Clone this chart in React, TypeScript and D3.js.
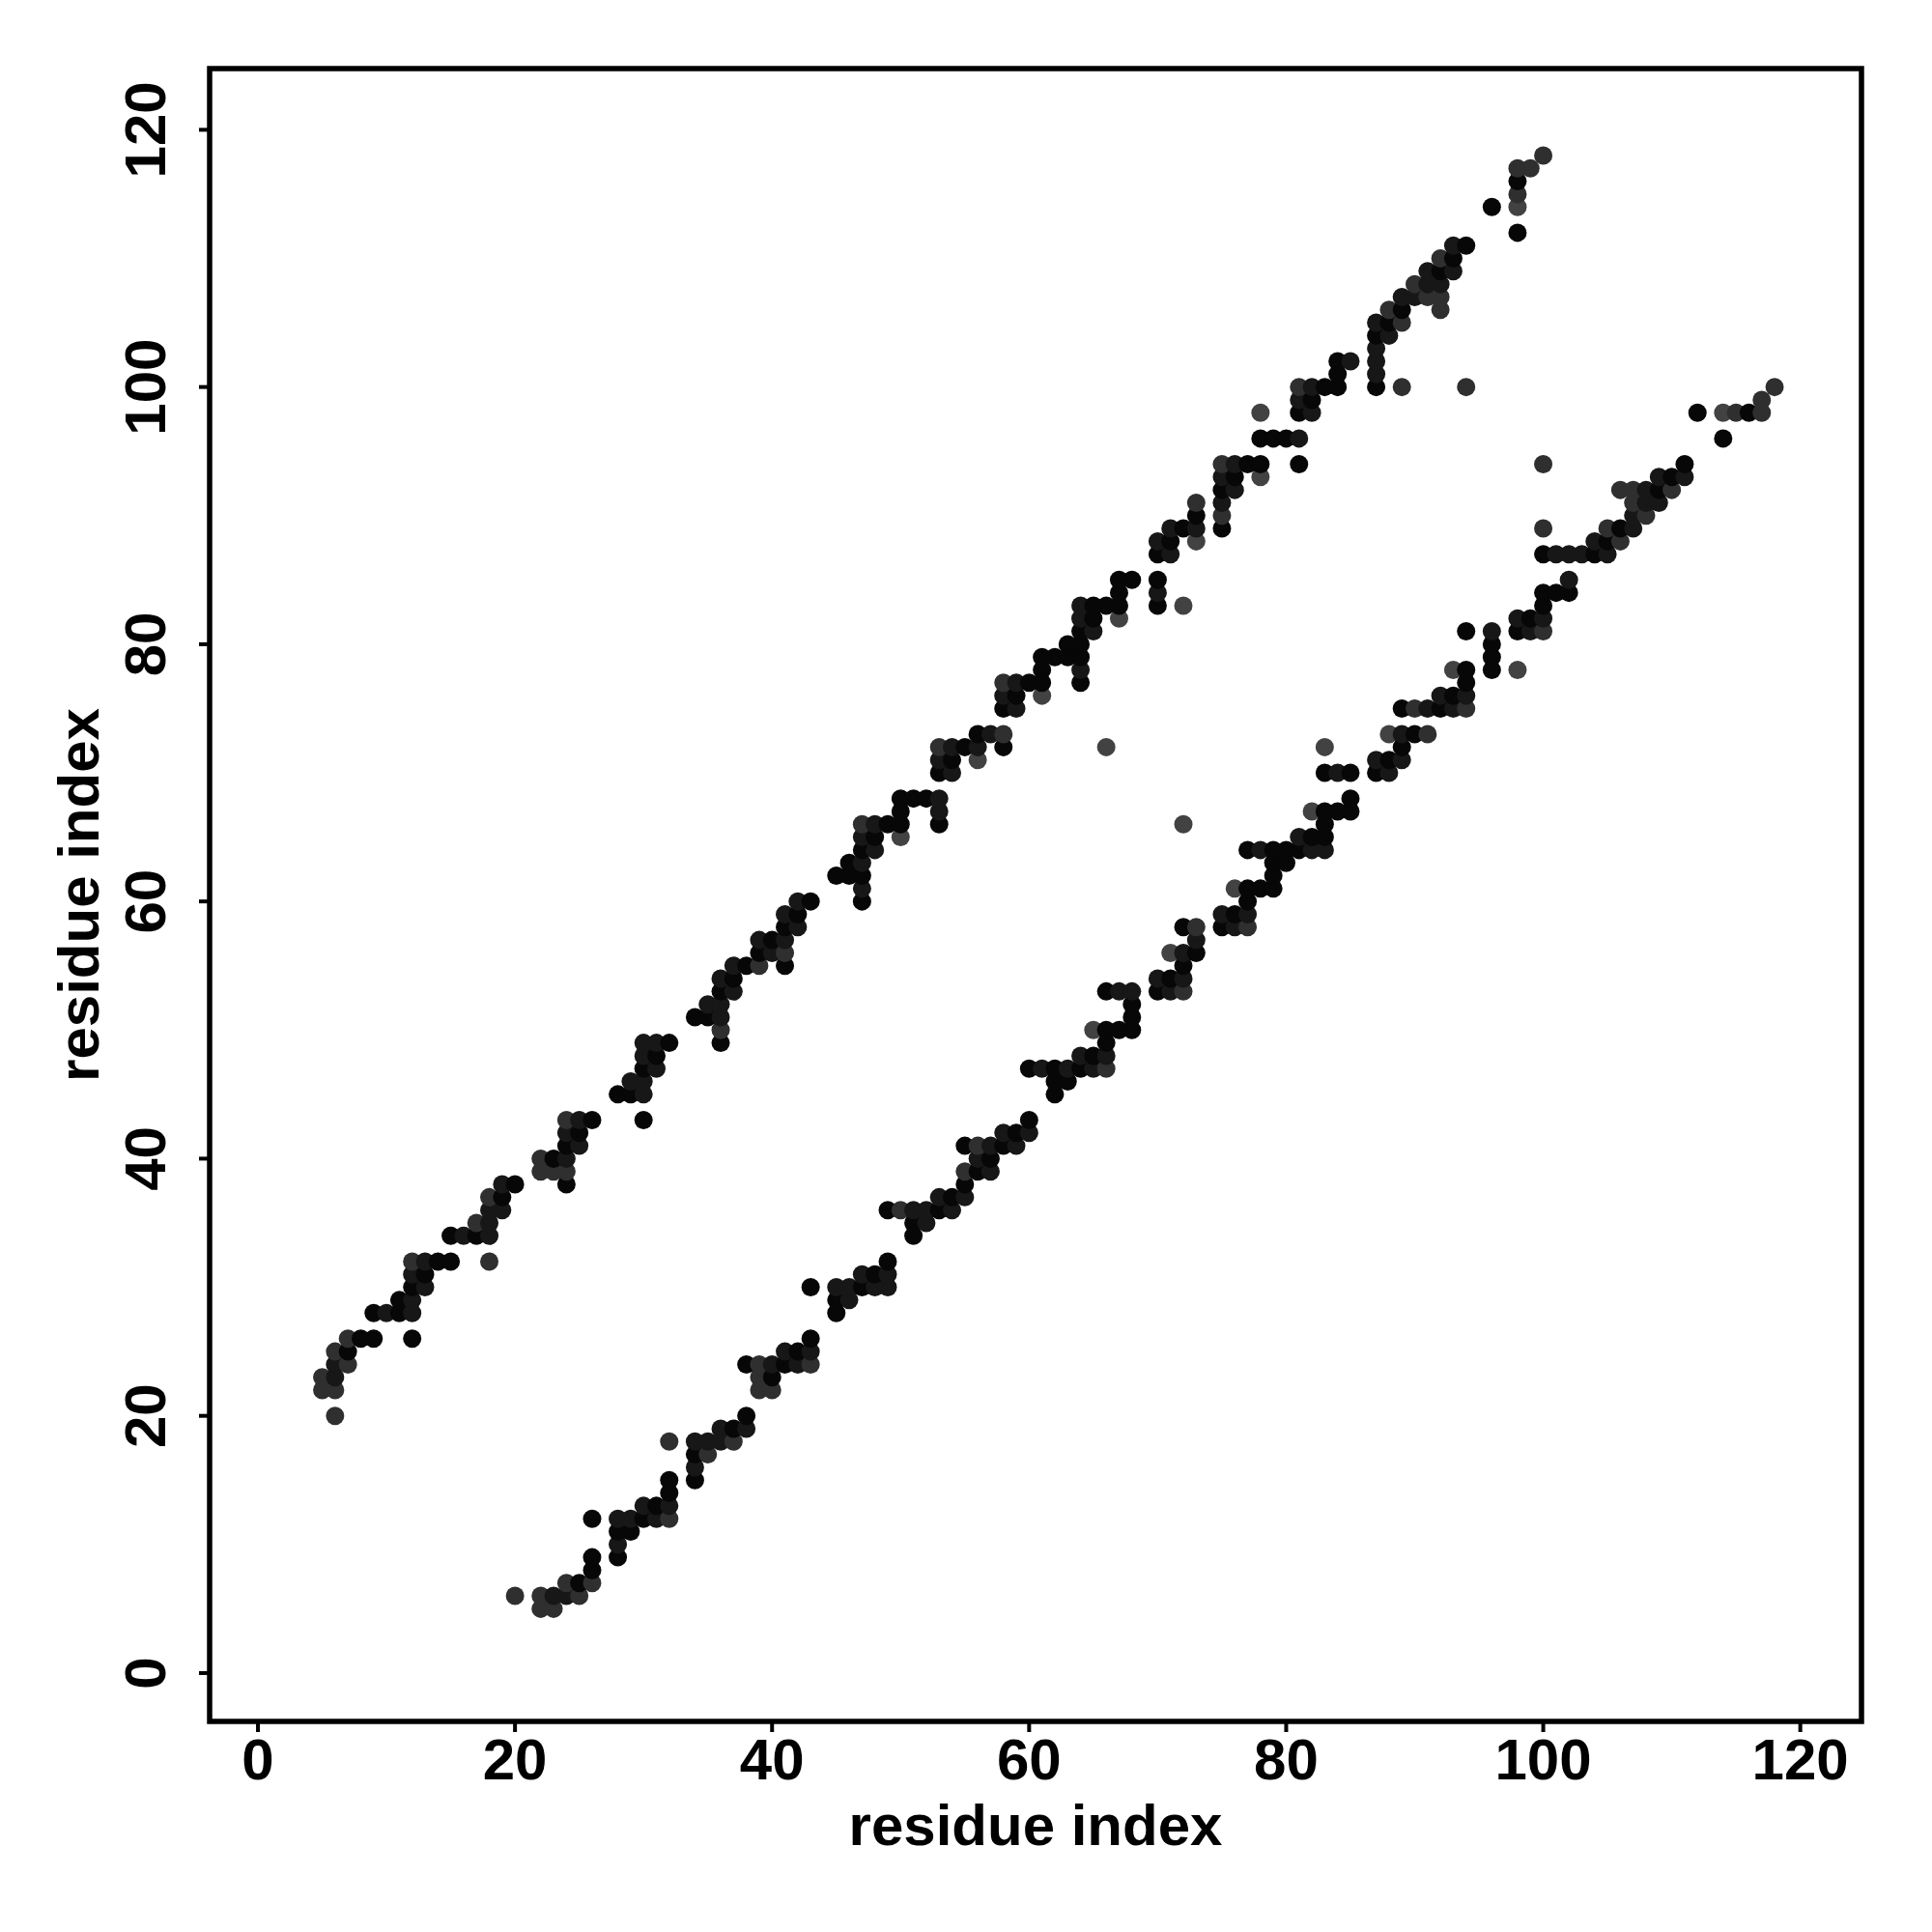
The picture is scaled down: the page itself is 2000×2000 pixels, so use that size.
import React from "react";
import * as d3 from "d3";

const resI = [
  5, 5, 6, 6, 6, 6, 6, 7, 7, 7, 8, 9, 9, 10, 11, 11, 12, 12, 12, 12, 12, 12, 13, 13, 13, 14, 15, 15, 16, 17, 17, 18, 18, 18, 18, 18, 19, 19, 19, 20,
  22, 22, 23, 23, 24, 24, 24, 24, 24, 24, 25, 25, 25, 26, 28, 29, 29, 30, 30, 30, 30, 30, 30, 31, 31, 31, 32,
  34, 35, 35, 36, 36, 36, 36, 36, 36, 37, 37, 37, 38, 39, 39, 39, 40, 40, 41, 41, 41, 41, 41, 42, 42, 42, 43,
  45, 46, 46, 47, 47, 47, 47, 47, 47, 47, 48, 48, 48, 49, 50, 50, 50, 50, 51, 52, 53, 53, 53, 53, 53, 53, 54, 54, 54, 55, 56, 56, 56, 57, 58, 58, 58, 58, 58, 59, 59, 59, 60,
  61, 61, 61, 61, 62, 63, 63, 64, 64, 64, 64, 64, 64, 64, 65, 65, 65, 66, 66, 67, 67, 67, 67, 68,
  70, 70, 70, 70, 70, 71, 71, 71, 72, 72, 73, 73, 73, 73,
  75, 75, 75, 75, 75, 75, 76, 76, 76, 77, 78, 78, 78, 78, 79, 80, 81, 81, 81, 81, 81, 82, 82, 82, 83, 84, 84, 84, 85,
  87, 87, 87, 87, 87, 87, 88, 88, 88, 89, 89, 89, 89, 90, 90, 91, 91, 91, 92, 92, 92, 92, 92, 93, 93, 93, 94, 94, 96, 98, 98, 98, 98, 98, 99, 100,
];
const resJ = [
  22, 23, 20, 22, 23, 24, 25, 24, 25, 26, 26, 26, 28, 28, 28, 29, 26, 28, 29, 30, 31, 32, 30, 31, 32, 32, 32, 34, 34, 34, 35, 32, 34, 35, 36, 37, 36, 37, 38, 38,
  39, 40, 39, 40, 38, 39, 40, 41, 42, 43, 41, 42, 43, 43, 45, 45, 46, 43, 45, 46, 47, 48, 49, 47, 48, 49, 49,
  51, 51, 52, 49, 50, 51, 52, 53, 54, 53, 54, 55, 55, 55, 56, 57, 56, 57, 55, 56, 57, 58, 59, 58, 59, 60, 60,
  62, 62, 63, 60, 61, 62, 63, 64, 65, 66, 64, 65, 66, 66, 65, 66, 67, 68, 68, 68, 66, 67, 68, 70, 71, 72, 70, 71, 72, 72, 71, 72, 73, 73, 72, 73, 75, 76, 77, 75, 76, 77, 77,
  76, 77, 78, 79, 79, 79, 80, 77, 78, 79, 80, 81, 82, 83, 81, 82, 83, 72, 83, 82, 83, 84, 85, 85,
  83, 84, 85, 87, 88, 87, 88, 89, 83, 89, 88, 89, 90, 91,
  89, 90, 91, 92, 93, 94, 92, 93, 94, 94, 93, 94, 96, 98, 96, 96, 94, 96, 98, 99, 100, 98, 99, 100, 100, 100, 101, 102, 102,
  100, 101, 102, 103, 104, 105, 104, 105, 106, 100, 105, 106, 107, 107, 108, 107, 108, 109, 106, 107, 108, 109, 110, 109, 110, 111, 100, 111, 114, 112, 114, 115, 116, 117, 117, 118,
];
// shade level of each contact: 0 = black ... 3 = lighter grey
const shade = [
  2, 2, 2, 2, 1, 1, 2, 2, 0, 2, 0, 0, 0, 1, 0, 0, 0, 1, 1, 0, 1, 2, 1, 0, 1, 0, 0, 0, 1, 0, 2, 2, 1, 1, 1, 2, 1, 0, 1, 0,
  2, 2, 2, 0, 0, 2, 1, 0, 1, 2, 1, 0, 1, 0, 0, 0, 1, 0, 1, 1, 0, 1, 1, 1, 0, 1, 0,
  0, 0, 1, 0, 2, 1, 1, 0, 1, 1, 0, 1, 0, 2, 0, 1, 1, 0, 0, 2, 1, 0, 1, 1, 0, 1, 0,
  0, 0, 0, 0, 1, 0, 1, 0, 1, 2, 1, 0, 1, 0, 3, 0, 0, 0, 0, 0, 0, 1, 1, 0, 1, 2, 1, 0, 1, 0, 3, 1, 0, 1, 0, 2, 0, 1, 2, 1, 0, 1, 0,
  3, 0, 0, 0, 0, 0, 0, 0, 1, 0, 0, 0, 1, 1, 1, 0, 0, 3, 0, 3, 0, 0, 0, 0,
  0, 1, 0, 0, 1, 1, 0, 1, 3, 0, 3, 1, 0, 2,
  0, 2, 1, 0, 1, 2, 1, 0, 1, 0, 3, 0, 0, 3, 0, 0, 0, 1, 0, 1, 2, 1, 0, 1, 0, 0, 0, 0, 1,
  0, 1, 1, 1, 0, 1, 1, 0, 2, 2, 2, 0, 1, 1, 2, 2, 1, 1, 2, 2, 1, 0, 2, 1, 0, 1, 2, 0, 0, 0, 3, 2, 0, 2, 2, 2,
];
const shadeColors = ["#070707", "#171717", "#2f2f2f", "#424242"];
const xTicks = [0, 20, 40, 60, 80, 100, 120];
const yTicks = [0, 20, 40, 60, 80, 100, 120];
const xLabel = "residue index";
const yLabel = "residue index";

const W = 2000;
const H = 2000;
const box = { left: 217, right: 1927, top: 71, bottom: 1782 };
const FONT = "'Liberation Sans', Arial, Helvetica, sans-serif";

export default function App() {
  const x = d3.scaleLinear().domain([-3.76, 124.76]).range([box.left, box.right]);
  const y = d3.scaleLinear().domain([-3.76, 124.76]).range([box.bottom, box.top]);

  const pts: { px: number; py: number; c: string }[] = [];
  resI.forEach((i, k) => {
    const j = resJ[k];
    const c = shadeColors[shade[k]];
    pts.push({ px: x(i), py: y(j), c });
    pts.push({ px: x(j), py: y(i), c });
  });

  return (
    <svg
      width={W}
      height={H}
      style={{ position: "absolute", left: 0, top: 0, background: "#fff" }}
      fontFamily={FONT}
      fontWeight="bold"
    >
      <rect x={0} y={0} width={W} height={H} fill="#fff" />
      {pts.map((p, k) => (
        <circle key={k} cx={p.px} cy={p.py} r={9.5} fill={p.c} />
      ))}
      <rect
        x={box.left}
        y={box.top}
        width={box.right - box.left}
        height={box.bottom - box.top}
        fill="none"
        stroke="#000"
        strokeWidth={5.5}
      />
      {xTicks.map((t) => (
        <g key={"x" + t}>
          <line x1={x(t)} x2={x(t)} y1={box.bottom} y2={box.bottom + 11} stroke="#000" strokeWidth={4} />
          <text x={x(t)} y={1842} textAnchor="middle" fontSize={60}>
            {t}
          </text>
        </g>
      ))}
      {yTicks.map((t) => (
        <g key={"y" + t}>
          <line x1={box.left - 11} x2={box.left} y1={y(t)} y2={y(t)} stroke="#000" strokeWidth={4} />
          <text
            transform={`translate(171, ${y(t)}) rotate(-90)`}
            textAnchor="middle"
            fontSize={60}
          >
            {t}
          </text>
        </g>
      ))}
      <text x={(box.left + box.right) / 2} y={1910} textAnchor="middle" fontSize={60}>
        {xLabel}
      </text>
      <text
        transform={`translate(102, ${(box.top + box.bottom) / 2}) rotate(-90)`}
        textAnchor="middle"
        fontSize={60}
      >
        {yLabel}
      </text>
    </svg>
  );
}
